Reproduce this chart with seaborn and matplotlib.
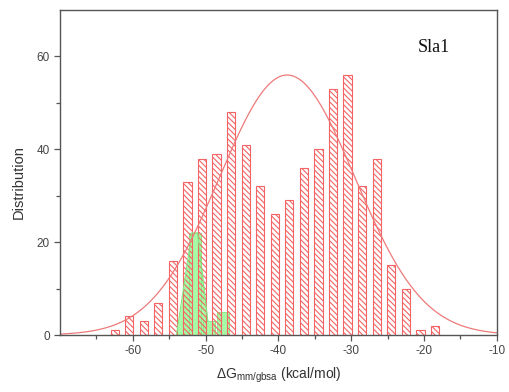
import numpy as np
import pandas as pd
import matplotlib
matplotlib.use('Agg')
import matplotlib.pyplot as plt
import seaborn as sns

# bin centres (kcal/mol) and counts
centers = [-62.5, -60.5, -58.5, -56.5, -54.5, -52.5, -50.5, -48.5, -46.5, -44.5, -42.5, -40.5,
           -38.5, -36.5, -34.5, -32.5, -30.5, -28.5, -26.5, -24.5, -22.5, -20.5, -18.5]
counts = [1, 4, 3, 7, 16, 33, 38, 39, 48, 41, 32, 26,
          29, 36, 40, 53, 56, 32, 38, 15, 10, 1, 2]

# green subset
green_centers = [-51.5, -49.5, -47.6]
green_counts = [22, 3, 5]
green_line_x = [-54.0, -51.9, -51.1, -49.7]
green_line_y = [0, 22, 22, 3]

# normal fit drawn over the histogram (amplitude, mean, sigma)
fit_amp, fit_mean, fit_sigma = 56, -38.8, 9.3

sns.set_style('white')
plt.rcParams['font.family'] = ['Liberation Sans', 'DejaVu Sans']
plt.rcParams['axes.unicode_minus'] = False
plt.rcParams['mathtext.fontset'] = 'custom'
plt.rcParams['mathtext.rm'] = 'Liberation Sans'
plt.rcParams['mathtext.it'] = 'Liberation Sans'
plt.rcParams['hatch.linewidth'] = 0.8
plt.rcParams['hatch.color'] = '#f56464'

df = pd.DataFrame({'dG': centers, 'n': counts})
gdf = pd.DataFrame({'dG': green_centers, 'n': green_counts})

fig = plt.figure(figsize=(5.09, 3.92), dpi=100)
ax = fig.add_axes([0.118, 0.1454, 0.858, 0.829])

# green part first so red hatching is seen across it
ax.fill_between(green_line_x, green_line_y, color='#a6fba6', lw=0)
ax.plot(green_line_x, green_line_y, color='#80e880', lw=0.8)
ax.bar(gdf['dG'], gdf['n'], width=1.6, color='#a6fba6', edgecolor='#80e880', lw=0.6)
n_green = len(ax.patches)

edges = [float(e) for e in np.arange(-63.5, -16.5, 2)]
sns.histplot(data=df, x='dG', weights='n', bins=edges, shrink=0.57, ax=ax,
             color='white', edgecolor='#f56464', linewidth=0.8, hatch='\\\\\\\\\\\\', alpha=1)
for p in ax.patches[n_green:]:
    p.set_facecolor('none')

xs = np.linspace(-70, -10, 300)
ax.plot(xs, fit_amp * np.exp(-(xs - fit_mean) ** 2 / (2 * fit_sigma ** 2)), color='#ee7a7a', lw=0.9)

ax.set_xlim(-70, -10)
ax.set_ylim(0, 70)
ax.set_xticks(range(-60, -9, 10))
ax.set_xticks(range(-65, -10, 10), minor=True)
ax.set_yticks([0, 20, 40, 60])
ax.set_yticks([10, 30, 50], minor=True)
ax.tick_params(axis='both', which='both', direction='out', colors='#555555', labelcolor='#444444',
               labelsize=8.5, width=0.9)
ax.tick_params(which='major', length=4)
ax.tick_params(which='minor', length=3)
ax.tick_params(top=False, right=False)
ax.xaxis.set_ticks_position('bottom')
ax.yaxis.set_ticks_position('left')
for s in ax.spines.values():
    s.set_color('#555555')
    s.set_linewidth(1.0)

ax.set_xlabel(r'$\Delta$G$_{\mathrm{mm/gbsa}}$ (kcal/mol)', fontsize=10, color='#333333', labelpad=6)
ax.set_ylabel('Distribution', fontsize=10.5, color='#333333')
ax.yaxis.set_label_coords(-0.078, 0.47)
ax.text(-20.9, 62, 'Sla1', family='Liberation Serif', fontsize=13, color='#111111', va='center')

fig.savefig('out.png', dpi=100)
